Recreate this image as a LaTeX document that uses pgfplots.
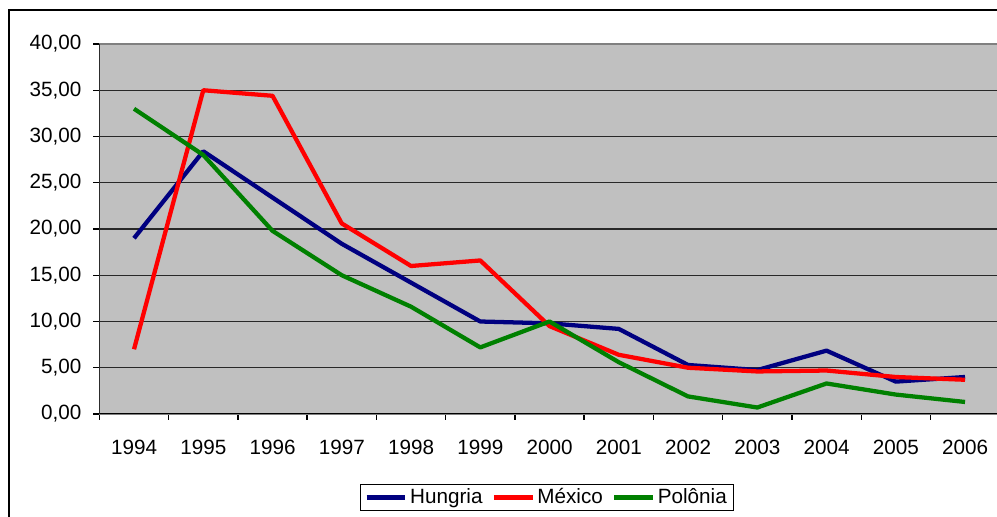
\documentclass[border=0pt]{standalone}
\usepackage{pgfplots}
\pgfplotsset{compat=1.18}
\usepackage{fontspec}
\setmainfont{Liberation Sans}
\definecolor{hun}{RGB}{0,0,128}
\definecolor{mex}{RGB}{255,0,0}
\definecolor{pol}{RGB}{0,128,0}
\definecolor{plotbg}{RGB}{192,192,192}
\definecolor{gridc}{RGB}{40,40,40}
\definecolor{frameg}{RGB}{128,128,128}
\begin{document}
\fontsize{15.5}{18}\selectfont
\begin{tikzpicture}
\useasboundingbox (0,0) rectangle (747.75pt,387.75pt);
\begin{scope}
\clip (0,0) rectangle (747.75pt,387.75pt);
\fill[white] (0,0) rectangle (747.75pt,387.75pt);
\draw[line width=1.5pt] (7.1pt,-20pt) rectangle (780pt,380.25pt);
\begin{axis}[
  at={(74.55pt,77.25pt)}, anchor=south west,
  scale only axis, width=675.2pt, height=277.5pt,
  xmin=-0.5, xmax=12.5, ymin=0, ymax=40,
  axis background/.style={fill=plotbg},
  axis line style={line width=1pt, draw=frameg},
  tick align=outside,
  tick pos=left,
  xtick={0,...,12},
  xticklabels={1994,1995,1996,1997,1998,1999,2000,2001,2002,2003,2004,2005,2006},
  major x tick style={draw=none},
  minor xtick={-0.5,0.5,...,12.5},
  minor tick length=4.5pt,
  minor x tick style={line width=1pt, black},
  ytick={0,5,...,40},
  major tick length=4.5pt,
  y tick style={line width=1pt, black},
  ymajorgrids, grid style={line width=1pt, gridc},
  xticklabel style={yshift=-10pt},
  yticklabel style={xshift=-3.6pt, /pgf/number format/.cd, fixed, fixed zerofill, precision=2, use comma, assume math mode=true},
  legend columns=3,
  legend style={at={(0.4972,-0.2257)}, anchor=center, draw=black, line width=0.75pt, fill=white,
    inner xsep=3pt, inner ysep=1pt,
    /tikz/every even column/.append style={column sep=5pt},
    nodes={inner xsep=2pt}},
  legend image code/.code={\draw[#1, line width=3.2pt] (0pt,0pt) -- (29pt,0pt);},
  every axis plot/.append style={line width=3.2pt, line join=round, mark=none},
]
\addplot[hun] table {
x y
0 19.0
1 28.4
2 23.4
3 18.4
4 14.2
5 10.0
6 9.8
7 9.2
8 5.3
9 4.75
10 6.85
11 3.5
12 4.0
};
\addlegendentry{Hungria}
\addplot[mex] table {
x y
0 7.0
1 35.0
2 34.4
3 20.6
4 16.0
5 16.6
6 9.5
7 6.4
8 5.0
9 4.6
10 4.7
11 4.0
12 3.7
};
\addlegendentry{México}
\addplot[pol] table {
x y
0 33.0
1 28.0
2 19.8
3 15.0
4 11.6
5 7.2
6 10.0
7 5.6
8 1.9
9 0.7
10 3.3
11 2.1
12 1.3
};
\addlegendentry{Polônia}
\draw[black, line width=1pt] (rel axis cs:0,1) -- (rel axis cs:0,0) -- (rel axis cs:1,0);
\end{axis}
\end{scope}
\end{tikzpicture}
\end{document}
